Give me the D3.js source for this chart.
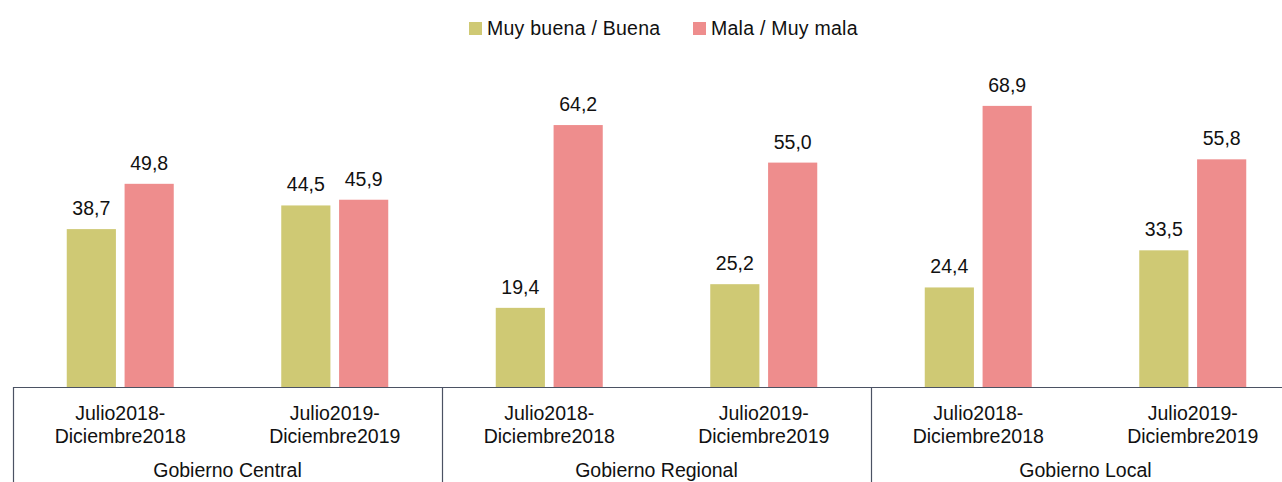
<!DOCTYPE html>
<html>
<head>
<meta charset="utf-8">
<script src="https://cdn.jsdelivr.net/npm/d3@7"></script>
<style>
  body { margin: 0; background: #fff; }
  text { font-family: "Liberation Sans", Arial, sans-serif; fill: #111; }
</style>
</head>
<body>
<svg id="chart" width="1282" height="482"></svg>
<script>
// data
var groups = ["Gobierno Central", "Gobierno Regional", "Gobierno Local"]
var periods = [["Julio2018-", "Diciembre2018"], ["Julio2019-", "Diciembre2019"]]
var series = ["Muy buena / Buena", "Mala / Muy mala"]
var buena = [38.7, 44.5, 19.4, 25.2, 24.4, 33.5]
var mala = [49.8, 45.9, 64.2, 55.0, 68.9, 55.8]
var colors = ["#cfc974", "#ee8d8d"]

var svg = d3.select("#chart")
var margin = {left: 13, right: -18, top: 60, bottom: 95}
var width = 1282, height = 482
var baseY = height - margin.bottom   // 387

// scales
var xGroup = d3.scaleBand().domain(groups).range([margin.left, width - margin.right])
var xPeriod = d3.scaleBand().domain([0, 1]).range([0, xGroup.bandwidth()])
var xSeries = d3.scaleBand().domain(series).range([-53.5, 53.5]).paddingInner(0.15)
var y = d3.scaleLinear().domain([0, 80]).range([baseY, baseY - 80 * 4.08])

var fmt = function(v){ return v.toFixed(1).replace(".", ",") }

// build rows
var rows = []
groups.forEach(function(g, gi){
  periods.forEach(function(p, pi){
    var i = gi * 2 + pi
    rows.push({group: g, period: pi, label: p, values: [buena[i], mala[i]]})
  })
})

var cat = svg.append("g").selectAll("g.cat")
  .data(rows)
  .enter()
  .append("g")
    .attr("class", "cat")
    .attr("transform", function(d){
      var cx = xGroup(d.group) + xPeriod(d.period) + xPeriod.bandwidth() / 2
      return "translate(" + cx + ",0)"
    })

cat.selectAll("rect")
  .data(function(d){ return d.values.map(function(v, k){ return {s: series[k], v: v, k: k} }) })
  .enter()
  .append("rect")
    .attr("x", function(d){ return xSeries(d.s) })
    .attr("width", xSeries.bandwidth())
    .attr("y", function(d){ return y(d.v) })
    .attr("height", function(d){ return baseY - y(d.v) })
    .style("fill", function(d){ return colors[d.k] })

cat.selectAll("text.val")
  .data(function(d){ return d.values.map(function(v, k){ return {s: series[k], v: v} }) })
  .enter()
  .append("text")
    .attr("class", "val")
    .attr("x", function(d){ return xSeries(d.s) + xSeries.bandwidth() / 2 })
    .attr("y", function(d){ return y(d.v) - 14 })
    .attr("text-anchor", "middle")
    .style("font-size", "19.5px")
    .text(function(d){ return fmt(d.v) })

// period labels
cat.selectAll("text.per")
  .data(function(d){ return d.label })
  .enter()
  .append("text")
    .attr("class", "per")
    .attr("x", 0)
    .attr("y", function(d, i){ return 420 + i * 23 })
    .attr("text-anchor", "middle")
    .style("font-size", "19.5px")
    .text(function(d){ return d })

// group labels (cut at the bottom edge in the original; kept just inside)
svg.append("g").selectAll("text")
  .data(groups)
  .enter()
  .append("text")
    .attr("x", function(d){ return xGroup(d) + xGroup.bandwidth() / 2 })
    .attr("y", 477)
    .attr("text-anchor", "middle")
    .style("font-size", "19.5px")
    .text(function(d){ return d })

// axis lines
var lineColor = "#4b5263"
svg.append("line")
  .attr("x1", margin.left).attr("x2", width)
  .attr("y1", baseY + 0.5).attr("y2", baseY + 0.5)
  .style("stroke", lineColor).style("stroke-width", 1.2)

svg.append("g").selectAll("line")
  .data(groups)
  .enter()
  .append("line")
    .attr("x1", function(d){ return Math.round(xGroup(d)) + 0.5 })
    .attr("x2", function(d){ return Math.round(xGroup(d)) + 0.5 })
    .attr("y1", baseY).attr("y2", height)
    .style("stroke", lineColor).style("stroke-width", 1.2)

// legend
var legendX = [469, 693]
var legend = svg.append("g").selectAll("g")
  .data(series)
  .enter()
  .append("g")
    .attr("transform", function(d, i){ return "translate(" + legendX[i] + ",0)" })

legend.append("rect")
  .attr("x", 0).attr("y", 22)
  .attr("width", 13).attr("height", 13)
  .style("fill", function(d, i){ return colors[i] })

legend.append("text")
  .attr("x", 18).attr("y", 35)
  .style("font-size", "19.5px")
  .style("letter-spacing", "0.25px")
  .text(function(d){ return d })
</script>
</body>
</html>
